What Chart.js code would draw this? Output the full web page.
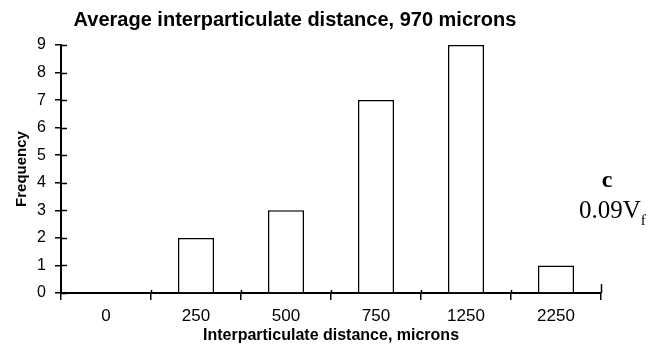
<!DOCTYPE html>
<html>
<head>
<meta charset="utf-8">
<script src="https://cdn.jsdelivr.net/npm/chart.js@4/dist/chart.umd.min.js"></script>
<style>
  html, body { margin: 0; padding: 0; background: #fff; }
  #wrap { width: 662px; height: 345px; position: relative; }
</style>
</head>
<body>
<div id="wrap"><canvas id="chart" width="662" height="345"></canvas></div>
<script>
// ── Data ──────────────────────────────────────────────────
const categories = ["0", "250", "500", "750", "1250", "2250"];
const frequency  = [0, 2, 3, 7, 9, 1];
const yTicks     = [0, 1, 2, 3, 4, 5, 6, 7, 8, 9];

const TITLE    = "Average interparticulate distance, 970 microns";
const X_TITLE  = "Interparticulate distance, microns";
const Y_TITLE  = "Frequency";
const PANEL    = "c";
const FRACTION = "0.09V";
const FRACTION_SUB = "f";

const INK  = "#000";
const SANS = "'Liberation Sans', Arial, sans-serif";
const SERIF = "'Liberation Serif', 'Times New Roman', serif";

// ── Plugin: inner half of the crossing ticks, title, panel tag ──
const decorations = {
  id: "decorations",
  afterDraw(chart) {
    const { ctx, chartArea, scales } = chart;
    const y = scales.y;
    const x = scales.x;
    ctx.save();
    ctx.strokeStyle = INK;
    ctx.lineWidth = 1.5;

    // y ticks poke into the plot as well
    yTicks.forEach(v => {
      const py = Math.round(y.getPixelForValue(v)) + 0.5;
      ctx.beginPath();
      ctx.moveTo(chartArea.left, py);
      ctx.lineTo(chartArea.left + 6, py);
      ctx.stroke();
    });

    // x ticks at category boundaries, small stub above the axis
    for (let i = 1; i <= categories.length; i++) {
      const px = Math.round((x.getPixelForValue(i - 1) + x.getPixelForValue(i)) / 2);
      const last = i === categories.length;
      const edge = last ? chartArea.right : px;
      ctx.beginPath();
      ctx.moveTo(edge + 0.5, chartArea.bottom);
      ctx.lineTo(edge + 0.5, chartArea.bottom - (last ? 9 : 3));
      ctx.stroke();
    }

    // chart title
    ctx.fillStyle = INK;
    ctx.textAlign = "center";
    ctx.textBaseline = "middle";
    ctx.font = `bold 20px ${SANS}`;
    ctx.fillText(TITLE, 295, 20);

    // panel tag on the right
    ctx.font = `bold 24px ${SERIF}`;
    ctx.fillText(PANEL, 607, 181);
    ctx.textAlign = "left";
    ctx.font = `25px ${SERIF}`;
    ctx.fillText(FRACTION, 579, 211);
    const w = ctx.measureText(FRACTION).width;
    ctx.font = `15px ${SERIF}`;
    ctx.fillText(FRACTION_SUB, 579 + w, 221);
    ctx.restore();
  },
};

new Chart(document.getElementById("chart"), {
  type: "bar",
  data: {
    labels: categories,
    datasets: [{
      data: frequency,
      backgroundColor: "#fff",
      borderColor: INK,
      borderWidth: 1.5,
      borderSkipped: "bottom",
      barPercentage: 0.4,
      categoryPercentage: 1,
    }],
  },
  options: {
    responsive: false,
    animation: false,
    layout: { padding: { top: 45, right: 61, left: 0, bottom: 0 } },
    plugins: {
      legend:  { display: false },
      tooltip: { enabled: false },
      title:   { display: false },
    },
    scales: {
      x: {
        offset: true,
        grid: {
          offset: true,
          drawOnChartArea: false,
          drawTicks: true,
          tickLength: 7,
          color: INK,
          lineWidth: 1.5,
        },
        border: { display: true, color: INK, width: 2 },
        ticks: {
          color: INK,
          padding: 6,
          maxRotation: 0,
          font: { family: SANS, size: 17 },
        },
        title: {
          display: true,
          text: X_TITLE,
          color: INK,
          padding: { top: 0, bottom: 0 },
          font: { family: SANS, size: 16, weight: "bold" },
        },
        afterFit: scale => { scale.height = 52; },
      },
      y: {
        min: 0,
        max: 9,
        afterBuildTicks: scale => { scale.ticks = yTicks.map(v => ({ value: v })); },
        grid: {
          drawOnChartArea: false,
          drawTicks: true,
          tickLength: 6,
          color: INK,
          lineWidth: 1.5,
        },
        border: { display: true, color: INK, width: 2 },
        ticks: {
          color: INK,
          padding: 9,
          font: { family: SANS, size: 16 },
        },
        title: {
          display: true,
          text: Y_TITLE,
          color: INK,
          padding: { top: 13, bottom: 0 },
          font: { family: SANS, size: 15, weight: "bold" },
        },
        afterFit: scale => { scale.width = 61; },
      },
    },
  },
  plugins: [decorations],
});
</script>
</body>
</html>
